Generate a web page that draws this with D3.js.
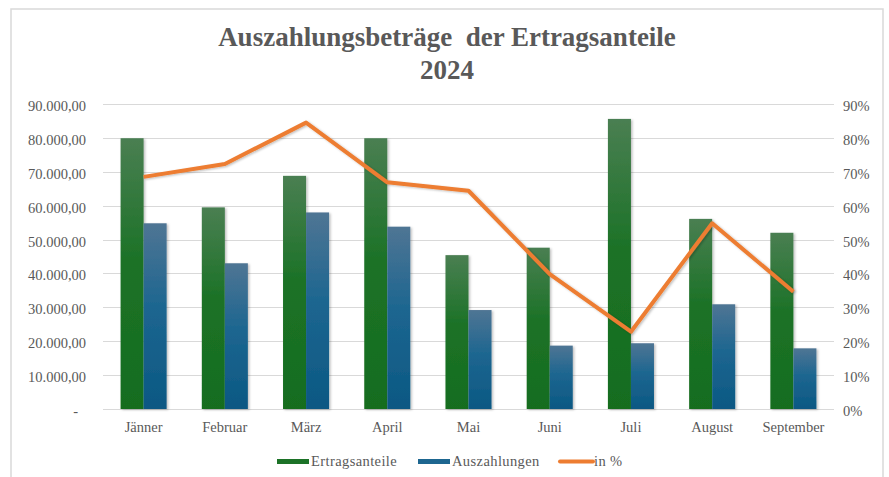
<!DOCTYPE html>
<html>
<head>
<meta charset="utf-8">
<script src="https://cdn.jsdelivr.net/npm/d3@7"></script>
<style>
  body { margin: 0; background: #fff; }
  text { font-family: "Liberation Serif", "Times New Roman", serif; fill: #595959; }
</style>
</head>
<body>
<div id="container"></div>
<script>
const width = 889;
const height = 477;

const months = ['Jänner', 'Februar', 'März', 'April', 'Mai', 'Juni', 'Juli', 'August', 'September'];
const ertragsanteile = [79900, 59500, 68800, 79900, 45400, 47600, 85600, 56100, 52000];
const auszahlungen = [54800, 43000, 58000, 53800, 29200, 18700, 19400, 30900, 17900];
const inProzent = [0.685, 0.723, 0.845, 0.669, 0.644, 0.398, 0.228, 0.548, 0.346];
const leftTicks = [0, 10000, 20000, 30000, 40000, 50000, 60000, 70000, 80000, 90000];
const rightTicks = [0, 0.1, 0.2, 0.3, 0.4, 0.5, 0.6, 0.7, 0.8, 0.9];
const seriesNames = ['Ertragsanteile', 'Auszahlungen', 'in %'];

const plot = { left: 103, right: 834, top: 104, bottom: 409 };

const svg = d3.select('#container')
    .append('svg')
    .attr('width', width)
    .attr('height', height);

// gradients for the bars
const defs = svg.append('defs');
function gradient(id, stops) {
    const g = defs.append('linearGradient')
        .attr('id', id)
        .attr('x1', 0).attr('y1', 0).attr('x2', 0).attr('y2', 1);
    stops.forEach(s => g.append('stop').attr('offset', s[0]).attr('stop-color', s[1]));
}
gradient('gradGreen', [['0%', '#4a7f52'], ['45%', '#1c7227'], ['100%', '#166d1f']]);
gradient('gradBlue', [['0%', '#4f7594'], ['45%', '#1d6690'], ['100%', '#0b5883']]);

const shadow = defs.append('filter').attr('id', 'shadow')
    .attr('x', '-20%').attr('y', '-5%').attr('width', '150%').attr('height', '110%');
shadow.append('feDropShadow')
    .attr('dx', 1.5).attr('dy', 1).attr('stdDeviation', 1)
    .attr('flood-color', '#000').attr('flood-opacity', 0.25);

// frame
svg.append('rect')
    .attr('x', 11).attr('y', 9)
    .attr('width', 872).attr('height', 480)
    .attr('fill', 'none')
    .attr('stroke', '#d9d9d9')
    .attr('stroke-width', 1.5);

// title
const title = svg.append('text')
    .attr('text-anchor', 'middle')
    .attr('font-size', 27)
    .attr('font-weight', 'bold')
    .style('white-space', 'pre');
title.append('tspan').attr('x', 447).attr('y', 46).text('Auszahlungsbeträge  der Ertragsanteile');
title.append('tspan').attr('x', 447).attr('y', 79).text('2024');

const x0 = d3.scaleBand()
    .domain(months)
    .range([plot.left, plot.right])
    .paddingInner(0.433)
    .paddingOuter(0.2165);
const x1 = d3.scaleBand()
    .domain(['e', 'a'])
    .range([0, x0.bandwidth()]);
const yLeft = d3.scaleLinear().domain([0, 90000]).range([plot.bottom, plot.top]);
const yRight = d3.scaleLinear().domain([0, 0.9]).range([plot.bottom, plot.top]);

// gridlines
svg.append('g')
    .selectAll('line')
    .data(leftTicks)
    .enter()
    .append('line')
    .attr('x1', plot.left)
    .attr('x2', plot.right)
    .attr('y1', d => Math.round(yLeft(d)) + 0.5)
    .attr('y2', d => Math.round(yLeft(d)) + 0.5)
    .attr('stroke', '#d9d9d9')
    .attr('stroke-width', 1);

// left axis
const fmt = d3.formatLocale({ decimal: ',', thousands: '.', grouping: [3], currency: ['', ''] }).format(',.2f');
const leftAxis = d3.axisLeft(yLeft)
    .tickValues(leftTicks)
    .tickSize(0)
    .tickPadding(0)
    .tickFormat(d => d === 0 ? '-' : fmt(d));
const gl = svg.append('g')
    .attr('transform', 'translate(86, 0)')
    .call(leftAxis);
gl.select('.domain').remove();
gl.selectAll('text')
    .attr('font-size', 14.5)
    .attr('font-family', '"Liberation Serif", serif')
    .attr('fill', '#595959')
    .attr('dy', '0.45em')
    .attr('dx', d => d === 0 ? -8 : 0);

// right axis
const rightAxis = d3.axisRight(yRight)
    .tickValues(rightTicks)
    .tickSize(0)
    .tickPadding(0)
    .tickFormat(d3.format('.0%'));
const gr = svg.append('g')
    .attr('transform', 'translate(843, 0)')
    .call(rightAxis);
gr.select('.domain').remove();
gr.selectAll('text')
    .attr('font-size', 14.5)
    .attr('font-family', '"Liberation Serif", serif')
    .attr('fill', '#595959')
    .attr('dy', '0.45em');

// category axis
const bottomAxis = d3.axisBottom(x0).tickSize(0).tickPadding(0);
const gb = svg.append('g')
    .attr('transform', 'translate(0, 421)')
    .call(bottomAxis);
gb.select('.domain').remove();
gb.selectAll('text')
    .attr('font-size', 14.5)
    .attr('font-family', '"Liberation Serif", serif')
    .attr('fill', '#595959')
    .attr('dy', '0.75em');

// bars
const groups = svg.append('g')
    .selectAll('g')
    .data(months)
    .enter()
    .append('g')
    .attr('transform', d => 'translate(' + x0(d) + ', 0)');

groups.append('rect')
    .attr('x', x1('e'))
    .attr('y', (d, i) => yLeft(ertragsanteile[i]))
    .attr('width', x1.bandwidth())
    .attr('height', (d, i) => yLeft(0) - yLeft(ertragsanteile[i]))
    .attr('fill', 'url(#gradGreen)')
    .attr('filter', 'url(#shadow)');

groups.append('rect')
    .attr('x', x1('a'))
    .attr('y', (d, i) => yLeft(auszahlungen[i]))
    .attr('width', x1.bandwidth())
    .attr('height', (d, i) => yLeft(0) - yLeft(auszahlungen[i]))
    .attr('fill', 'url(#gradBlue)')
    .attr('filter', 'url(#shadow)');

// line
const line = d3.line()
    .x((d, i) => x0(months[i]) + x0.bandwidth() / 2)
    .y(d => yRight(d));
svg.append('path')
    .datum(inProzent)
    .attr('d', line)
    .attr('fill', 'none')
    .attr('stroke', '#ed7d31')
    .attr('stroke-width', 4)
    .attr('stroke-linejoin', 'round')
    .attr('filter', 'url(#shadow)');

// legend
const legend = svg.append('g').attr('id', 'legend');
const legendItems = [
    { name: seriesNames[0], x: 277, type: 'rect', fill: '#1c7227' },
    { name: seriesNames[1], x: 418, type: 'rect', fill: '#1d6690' },
    { name: seriesNames[2], x: 560, type: 'line', fill: '#ed7d31' }
];
legendItems.forEach(item => {
    if (item.type === 'rect') {
        legend.append('rect')
            .attr('x', item.x).attr('y', 459)
            .attr('width', 32).attr('height', 5)
            .attr('fill', item.fill);
    } else {
        legend.append('line')
            .attr('x1', item.x).attr('x2', item.x + 33)
            .attr('y1', 461.5).attr('y2', 461.5)
            .attr('stroke', item.fill)
            .attr('stroke-width', 4)
            .attr('stroke-linecap', 'round');
    }
    legend.append('text')
        .attr('x', item.x + 34)
        .attr('y', 466)
        .attr('font-size', 14.5)
        .attr('letter-spacing', 0.4)
        .text(item.name);
});
</script>
</body>
</html>
